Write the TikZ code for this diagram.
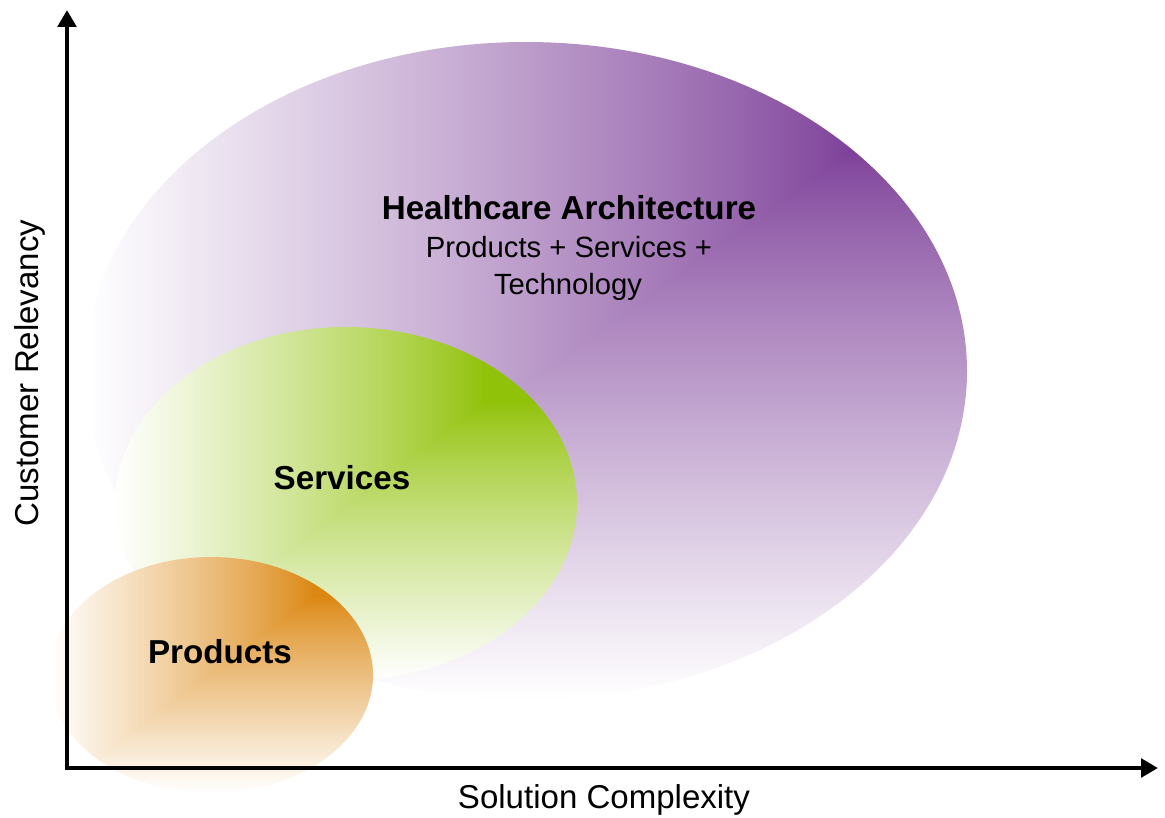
\documentclass[tikz,border=0pt]{standalone}
\usepackage{fontspec}
\setmainfont{Liberation Sans}
\usetikzlibrary{arrows.meta}

% Corner gradients: full colour at an inner point (px,py), fading to white
% towards the left and bottom edges of the shape's bounding box.
% t = max((px-x)/a, (py-y)/b), clamped to [0,1]; colour = dark + (1-dark) t^0.85
\pgfdeclarefunctionalshading{archfade}{\pgfpoint{-50bp}{-50bp}}{\pgfpoint{50bp}{50bp}}{}{
  16.79 exch sub 41.79 div
  exch 18.5 exch sub 43.5 div
  2 copy sub abs add add 2 div
  dup abs add 2 div
  dup 1 sub abs neg add 1 add 2 div
  0.85 exp
  dup 0.51 mul 0.49 add exch
  dup 0.75 mul 0.25 add exch
  0.40 mul 0.60 add
}
\pgfdeclarefunctionalshading{servfade}{\pgfpoint{-50bp}{-50bp}}{\pgfpoint{50bp}{50bp}}{}{
  14.24 exch sub 39.24 div
  exch 14.83 exch sub 39.83 div
  2 copy sub abs add add 2 div
  dup abs add 2 div
  dup 1 sub abs neg add 1 add 2 div
  0.85 exp
  dup 0.43 mul 0.57 add exch
  dup 0.24 mul 0.76 add exch
  0.96 mul 0.04 add
}
\pgfdeclarefunctionalshading{prodfade}{\pgfpoint{-50bp}{-50bp}}{\pgfpoint{50bp}{50bp}}{}{
  16.53 exch sub 41.53 div
  exch 15.74 exch sub 40.74 div
  2 copy sub abs add add 2 div
  dup abs add 2 div
  dup 1 sub abs neg add 1 add 2 div
  0.85 exp
  dup 0.14 mul 0.86 add exch
  dup 0.47 mul 0.53 add exch
  0.93 mul 0.07 add
}

\tikzset{
  boldlbl/.style={font=\fontsize{23.6}{28}\selectfont\bfseries, anchor=base, inner sep=0pt},
  sublbl/.style={font=\fontsize{20.8}{24}\selectfont, anchor=base, inner sep=0pt},
  axislbl/.style={font=\fontsize{23.5}{27}\selectfont, anchor=base, inner sep=0pt},
  axisline/.style={line width=3.4pt,
    {Triangle[length=12pt,width=13pt]}-{Triangle[length=12pt,width=13pt]}}
}

\begin{document}
\begin{tikzpicture}[x=0.025cm, y=-0.025cm]
  \useasboundingbox (0,0) rectangle (1165,817);

  % nested solution areas
  \shade[shading=archfade] (526,371) ellipse [x radius=441, y radius=329];
  \shade[shading=servfade] (346,503.5) ellipse [x radius=231, y radius=176.5];
  \shade[shading=prodfade] (211,675) ellipse [x radius=162, y radius=118];

  % axes
  \coordinate (origin) at (67,768);
  \coordinate (ytip) at (67,10);
  \coordinate (xtip) at (1158,768);
  \draw[axisline] (ytip) -- (origin) -- (xtip);

  % labels
  \node[boldlbl] (arch) at (569,219) {Healthcare Architecture};
  \node[sublbl] (archsub1) at (569,257) {Products + Services +};
  \node[sublbl] (archsub2) at (568,294) {Technology};
  \node[boldlbl] (serv) at (342,489) {Services};
  \node[boldlbl] (prod) at (220,663) {Products};
  \node[axislbl] (xlabel) at (604,808) {Solution Complexity};
  \node[axislbl, rotate=90] (ylabel) at (38,373) {Customer Relevancy};
\end{tikzpicture}
\end{document}
